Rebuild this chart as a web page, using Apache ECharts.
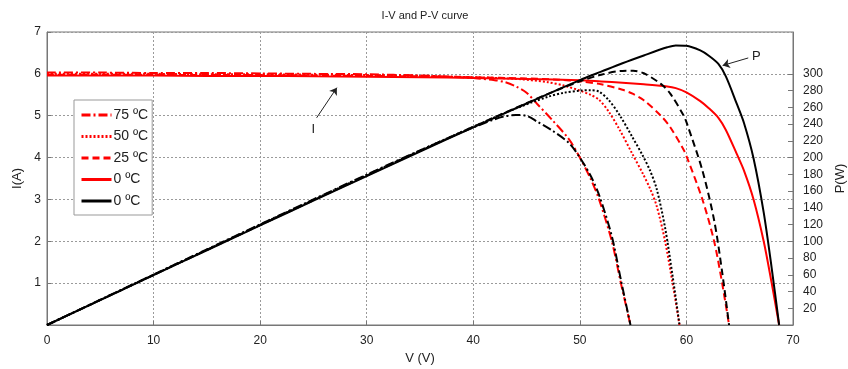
<!DOCTYPE html>
<html>
<head>
<meta charset="utf-8">
<script src="https://cdn.jsdelivr.net/npm/echarts@6/dist/echarts.min.js"></script>
<style>html,body{margin:0;padding:0;background:#fff;}#c{width:848px;height:369px;}</style>
</head>
<body>
<div id="c"></div>
<script>
// ---- data ----
const xTicks = [0, 10, 20, 30, 40, 50, 60, 70];
const iTicks = [1, 2, 3, 4, 5, 6, 7];
const pTicks = [20, 40, 60, 80, 100, 120, 140, 160, 180, 200, 220, 240, 260, 280, 300];

const legendLabels = ['75 ºC', '50 ºC', '25 ºC', '0 ºC', '0 ºC'];

// 75 ºC
const volt75 = [0, 5, 10, 15, 20, 25, 30, 35, 38, 40, 42, 43, 44, 45, 46, 47.4, 49, 50, 51, 51.8, 53, 53.85, 54.75];
const curr75 = [6.03, 6.03, 6.02, 6.02, 6.01, 6.0, 5.99, 5.96, 5.93, 5.9, 5.85, 5.8, 5.7, 5.55, 5.28, 4.9, 4.43, 4.0, 3.5, 3.0, 2.0, 1.0, 0];
const pow75  = [0, 30.2, 60.2, 90.3, 120.2, 150, 179.7, 208.6, 225.3, 236, 245.7, 249.4, 250.8, 249.8, 242.9, 232.3, 217.1, 200, 178.5, 155.4, 106, 53.9, 0];

// 50 ºC
const volt50 = [0, 5, 10, 15, 20, 25, 30, 35, 40, 44, 47, 48.5, 50, 51, 51.8, 52.7, 53.7, 54.9, 55.9, 56.6, 57.2, 58.0, 58.7, 59.35];
const curr50 = [6.0, 6.0, 6.0, 5.99, 5.99, 5.98, 5.97, 5.95, 5.92, 5.88, 5.8, 5.72, 5.6, 5.5, 5.38, 5.1, 4.68, 4.1, 3.62, 3.25, 2.85, 2.0, 1.0, 0];
const pow50  = [0, 30, 60, 89.9, 119.8, 149.5, 179.1, 208.3, 236.8, 258.7, 272.6, 277.4, 280, 280.5, 278.7, 268.8, 251.3, 225.1, 202.4, 184, 163, 116, 58.7, 0];

// 25 ºC
const volt25 = [0, 5, 10, 15, 20, 25, 30, 35, 40, 45, 48, 50, 52, 54, 55, 56, 57.6, 58.5, 59.75, 60.06, 61.5, 62.6, 63.35, 64.0];
const curr25 = [5.98, 5.98, 5.98, 5.97, 5.97, 5.96, 5.95, 5.94, 5.92, 5.89, 5.86, 5.82, 5.75, 5.62, 5.52, 5.37, 5.0, 4.72, 4.18, 4.0, 3.0, 2.0, 1.0, 0];
const pow25  = [0, 29.9, 59.8, 89.6, 119.4, 149, 178.5, 207.9, 236.8, 265, 281.3, 291, 299, 303.5, 303.6, 300.7, 288, 276.1, 249.8, 240.2, 184.5, 125.2, 63.4, 0];

// 0 ºC
const volt0 = [0, 5, 10, 15, 20, 25, 30, 35, 40, 45, 50, 52, 54, 56, 58.2, 59, 60, 61.3, 62.1, 63, 63.7, 64.7, 65.4, 66.3, 67.25, 68.0, 68.7];
const curr0 = [5.96, 5.96, 5.96, 5.95, 5.95, 5.94, 5.93, 5.92, 5.9, 5.88, 5.85, 5.82, 5.79, 5.75, 5.7, 5.66, 5.56, 5.35, 5.18, 4.95, 4.66, 4.1, 3.69, 3.0, 2.0, 1.0, 0];
const pow0  = [0, 29.8, 59.6, 89.3, 119, 148.5, 177.9, 207.2, 236, 264.6, 292.5, 302.6, 312.7, 322, 331.7, 334, 333.6, 328, 321.7, 311.9, 297, 265, 241.3, 198.9, 134.5, 68, 0];

// annotation anchors (data coordinates)
const pArrow = [[65.8, 319], [63.4, 310]];
const iArrow = [[25.3, 4.95], [27.2, 5.67]];

// ---- chart ----
const pairs = (xs, ys) => xs.map((x, k) => [x, ys[k]]);
const FONT = 'Liberation Sans, Arial, sans-serif';
const RED = '#ff0000', BLACK = '#000000';
const DASHDOT = [9, 3, 2, 3], DOT = [2, 2], DASH = [7, 4];

function line(name, xs, ys, color, type, yIdx, extra) {
  return Object.assign({
    name: name, type: 'line', yAxisIndex: yIdx,
    data: pairs(xs, ys),
    symbol: 'none', smooth: 0.3,
    lineStyle: { color: color, width: 2, type: type },
    itemStyle: { color: color },
    animation: false, z: yIdx === 1 ? 3 : 2
  }, extra || {});
}

const chart = echarts.init(document.getElementById('c'), null, { renderer: 'canvas' });
const legendMap = { T75: legendLabels[0], T50: legendLabels[1], T25: legendLabels[2], T0: legendLabels[3], P0: legendLabels[4] };

chart.setOption({
  backgroundColor: '#fff',
  animation: false,
  textStyle: { fontFamily: FONT },
  title: {
    text: 'I-V and P-V curve', left: 420, top: 5, textAlign: 'center',
    textStyle: { fontSize: 11, fontWeight: 'normal', color: '#222', fontFamily: FONT }
  },
  grid: {
    left: 47, right: 55, top: 32, bottom: 44, containLabel: false, outerBoundsMode: 'none',
    show: true, borderColor: '#777', borderWidth: 1, backgroundColor: 'transparent'
  },
  legend: {
    orient: 'vertical', left: 74, top: 100,
    data: ['T75', 'T50', 'T25', 'T0', 'P0'],
    formatter: n => legendMap[n],
    itemWidth: 30, itemHeight: 10, itemGap: 7.5,
    padding: [8, 4, 7, 6],
    borderColor: '#999', borderWidth: 1, backgroundColor: '#fff',
    itemStyle: { opacity: 0 },
    lineStyle: { width: 3 },
    textStyle: { fontSize: 14, color: '#222', fontFamily: FONT, padding: [0, 0, 0, -3] },
    selectedMode: false
  },
  xAxis: {
    type: 'value', min: 0, max: 70, interval: 10,
    name: 'V (V)', nameLocation: 'middle', nameGap: 26,
    nameTextStyle: { fontSize: 13, color: '#222', fontFamily: FONT },
    axisLine: { show: true, lineStyle: { color: '#777' } },
    axisTick: { show: true, inside: true, length: 4, lineStyle: { color: '#777' } },
    axisLabel: { fontSize: 12, color: '#222', margin: 10, customValues: xTicks },
    splitLine: { show: true, lineStyle: { color: '#9a9a9a', type: [2, 2], width: 1 } }
  },
  yAxis: [{
    type: 'value', min: 0, max: 7, interval: 1,
    name: 'I(A)', nameLocation: 'middle', nameGap: 21, nameRotate: 90,
    nameTextStyle: { fontSize: 13, color: '#222', fontFamily: FONT },
    axisLine: { show: true, lineStyle: { color: '#777' } },
    axisTick: { show: true, inside: true, length: 4, lineStyle: { color: '#777' } },
    axisLabel: { fontSize: 12, color: '#222', margin: 6, customValues: iTicks },
    splitLine: { show: true, lineStyle: { color: '#9a9a9a', type: [2, 2], width: 1 } }
  }, {
    type: 'value', min: 0, max: 350, interval: 20, position: 'right',
    name: 'P(W)', nameLocation: 'middle', nameGap: 40, nameRotate: 90,
    nameTextStyle: { fontSize: 13, color: '#222', fontFamily: FONT },
    axisLine: { show: true, lineStyle: { color: '#777' } },
    axisTick: { show: true, inside: true, length: 5, lineStyle: { color: '#777' }, customValues: pTicks },
    axisLabel: { fontSize: 12, color: '#222', margin: 10, customValues: pTicks },
    splitLine: { show: false }
  }],
  series: [
    line('T75', volt75, curr75, RED, DASHDOT, 0, {
      markLine: {
        silent: true, animation: false, symbol: ['none', 'arrow'], symbolSize: 7,
        lineStyle: { color: '#222', width: 1, type: 'solid' },
        label: { show: true, position: 'start', formatter: 'I', color: '#222', fontSize: 13, fontFamily: FONT, distance: 6 },
        data: [[{ coord: iArrow[0] }, { coord: iArrow[1] }]]
      }
    }),
    line('T50', volt50, curr50, RED, DOT, 0),
    line('T25', volt25, curr25, RED, DASH, 0),
    line('T0', volt0, curr0, RED, 'solid', 0),
    line('P75', volt75, pow75, BLACK, DASHDOT, 1),
    line('P50', volt50, pow50, BLACK, DOT, 1),
    line('P25', volt25, pow25, BLACK, DASH, 1),
    line('P0', volt0, pow0, BLACK, 'solid', 1, {
      markLine: {
        silent: true, animation: false, symbol: ['none', 'arrow'], symbolSize: 7,
        lineStyle: { color: '#222', width: 1, type: 'solid' },
        label: { show: true, position: 'start', formatter: 'P', color: '#222', fontSize: 13, fontFamily: FONT, distance: 4 },
        data: [[{ coord: pArrow[0] }, { coord: pArrow[1] }]]
      }
    })
  ]
});
</script>
</body>
</html>
